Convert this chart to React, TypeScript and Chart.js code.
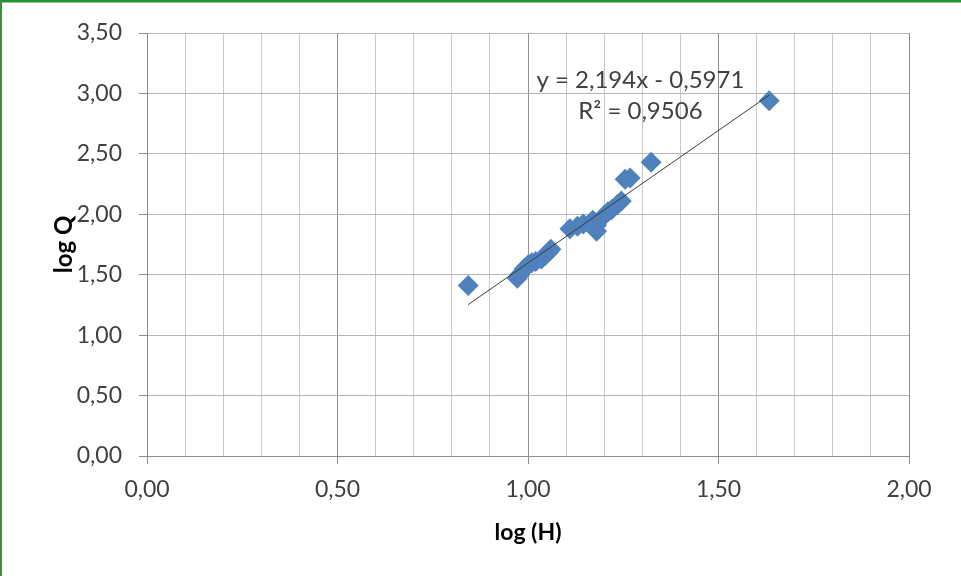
import React, { useEffect, useRef } from "react";
import { Chart, registerables } from "chart.js";

Chart.register(...registerables);

// Data (log H, log Q)
const logH: number[] = [
  0.843, 0.972, 0.978, 0.99, 1.0, 1.01, 1.02, 1.035, 1.045, 1.055, 1.06,
  1.11, 1.13, 1.145, 1.17, 1.18, 1.18, 1.2, 1.21, 1.22, 1.235, 1.245,
  1.255, 1.268, 1.323, 1.633,
];
const logQ: number[] = [
  1.41, 1.47, 1.5, 1.55, 1.58, 1.6, 1.61, 1.63, 1.66, 1.69, 1.71,
  1.88, 1.9, 1.92, 1.95, 1.91, 1.86, 1.99, 2.02, 2.04, 2.08, 2.11,
  2.29, 2.3, 2.43, 2.94,
];

// Linear trendline from the chart's equation
const slope = 2.194;
const intercept = -0.5971;
const equationLines: string[] = ["y = 2,194x - 0,5971", "R² = 0,9506"];

const xTitle = "log (H)";
const yTitle = "log Q";

const fmt = (v: number) => v.toFixed(2).replace(".", ",");
const isMajor = (v: number) => Math.abs(v * 2 - Math.round(v * 2)) < 1e-6;

const FONT = "Lato, 'Open Sans', sans-serif";
const TEXT = "#404040";

const equationPlugin = {
  id: "equationLabel",
  afterDatasetsDraw(chart: any) {
    const { ctx, scales } = chart;
    const cx = scales.x.getPixelForValue(1.295);
    const y1 = scales.y.getPixelForValue(3.11);
    const y2 = scales.y.getPixelForValue(2.855);
    ctx.save();
    ctx.font = `24px ${FONT}`;
    ctx.fillStyle = TEXT;
    ctx.textAlign = "center";
    ctx.textBaseline = "middle";
    ctx.fillText(equationLines[0], cx, y1);
    ctx.fillText(equationLines[1], cx, y2);
    ctx.restore();
  },
};

export default function App() {
  const ref = useRef<HTMLCanvasElement | null>(null);

  useEffect(() => {
    document.body.style.margin = "0";
    if (!ref.current) return;
    const points = logH.map((x, i) => ({ x, y: logQ[i] }));
    const xMin = Math.min(...logH);
    const xMax = Math.max(...logH);
    const trend = [
      { x: xMin, y: slope * xMin + intercept },
      { x: xMax, y: slope * xMax + intercept },
    ];
    const chart = new Chart(ref.current, {
      type: "scatter",
      data: {
        datasets: [
          {
            type: "line",
            data: trend,
            borderColor: "#3a3a3a",
            borderWidth: 1,
            pointRadius: 0,
            fill: false,
            order: 0,
          } as any,
          {
            data: points,
            pointStyle: "rectRot",
            pointRadius: 10.5,
            pointHoverRadius: 10.5,
            backgroundColor: "#4F81BD",
            borderWidth: 0,
            order: 1,
          },
        ],
      },
      plugins: [equationPlugin],
      options: {
        responsive: false,
        animation: false,
        devicePixelRatio: 1,
        events: [],
        layout: { padding: { top: 33, right: 52, bottom: 0, left: 0 } },
        plugins: {
          legend: { display: false },
          tooltip: { enabled: false },
        },
        scales: {
          x: {
            type: "linear",
            min: 0,
            max: 2,
            afterFit: (s: any) => {
              s.height = 120;
            },
            ticks: {
              stepSize: 0.1,
              autoSkip: false,
              maxRotation: 0,
              padding: 12,
              color: TEXT,
              font: { family: FONT, size: 23 },
              callback: (v: any) => (isMajor(Number(v)) ? fmt(Number(v)) : ""),
            },
            grid: {
              color: (c: any) =>
                c.tick && isMajor(c.tick.value) ? "#909090" : "#c8c8c8",
              tickColor: (c: any) =>
                c.tick && isMajor(c.tick.value) ? "#8c8c8c" : "rgba(0,0,0,0)",
              tickLength: 8,
              lineWidth: 1,
            },
            border: { display: true, color: "#8c8c8c", width: 1 },
            title: {
              display: true,
              text: xTitle,
              color: "#000",
              font: { family: FONT, size: 23, weight: "bold" },
              padding: { top: 0, bottom: 30 },
            },
          },
          y: {
            type: "linear",
            min: 0,
            max: 3.5,
            afterFit: (s: any) => {
              s.width = 147;
            },
            ticks: {
              stepSize: 0.5,
              padding: 17,
              color: TEXT,
              font: { family: FONT, size: 23 },
              callback: (v: any) => fmt(Number(v)),
            },
            grid: {
              color: "#b5b5b5",
              tickColor: "#8c8c8c",
              tickLength: 8,
              lineWidth: 1,
            },
            border: { display: true, color: "#8c8c8c", width: 1 },
            title: {
              display: true,
              text: yTitle,
              color: "#000",
              font: { family: FONT, size: 24, weight: "bold" },
              padding: { top: 50, bottom: 0 },
            },
          },
        },
      },
    });
    return () => chart.destroy();
  }, []);

  return (
    <div style={{ position: "relative", width: 961, height: 576, background: "#fff", overflow: "hidden" }}>
      <canvas ref={ref} width={961} height={576} style={{ display: "block" }} />
      <div style={{ position: "absolute", left: 0, top: 0, width: 961, height: 2, background: "#1d9a1d" }} />
      <div style={{ position: "absolute", left: 0, top: 2, width: 961, height: 1, background: "#b0b0b0" }} />
      <div style={{ position: "absolute", left: 0, top: 0, width: 2, height: 576, background: "#3f8f3f" }} />
    </div>
  );
}
